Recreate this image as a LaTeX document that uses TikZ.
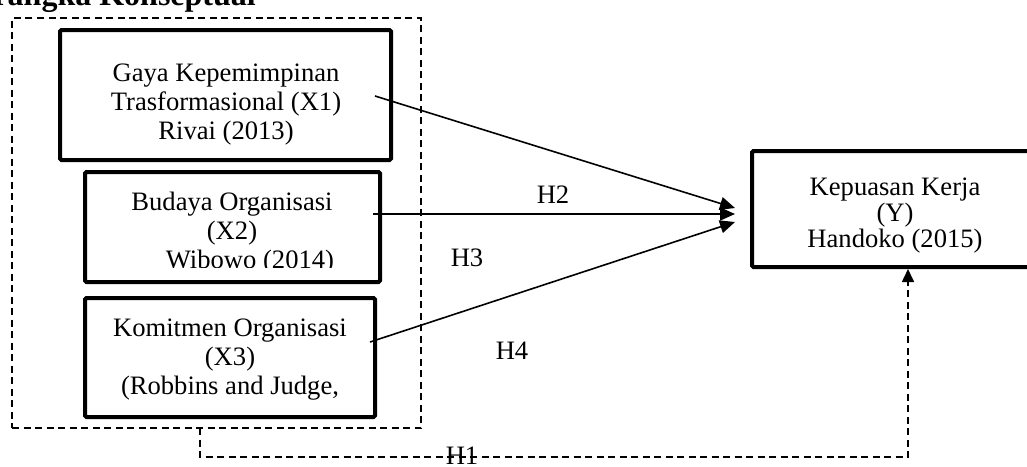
\documentclass[tikz,border=0pt]{standalone}
\usepackage{fontspec}
\setmainfont{Liberation Serif}
\usetikzlibrary{positioning,arrows.meta}

\begin{document}
\begin{tikzpicture}
    [x=1pt,y=-1pt,every node/.style={inner sep=0pt, align=center, font=\fontsize{26.6}{29}\selectfont},
     varbox/.style={draw, line width=4pt, rounded corners=1.5pt},
     dashline/.style={line width=1.6pt, dash pattern=on 7pt off 4.5pt},
     panah/.style={line width=1.6pt, -{Triangle[length=15pt,width=13pt]}}]
  \useasboundingbox (0,0) rectangle (1027,466);
  \clip (0,0) rectangle (1027,466);

  \node[anchor=base east, font=\bfseries\fontsize{32}{34}\selectfont] (judul) at (256,5) {Kerangka Konseptual};

  % kelompok variabel X
  \node[draw, dashline, minimum width=409pt, minimum height=410pt] (frame) at (216.5,223) {};

  \node[varbox, minimum width=331pt, minimum height=130pt] (x1) at (225.5,95) {};
  \node (x1t) at (226,105) {Gaya Kepemimpinan\\Trasformasional (X1)\\Rivai (2013)};

  \node[varbox, minimum width=295pt, minimum height=110pt] (x2) at (232.5,227) {};
  \begin{scope}
    \clip (90,180) rectangle (376,267);
    \node (x2t) at (232,233) {Budaya Organisasi\\(X2)\\\hspace*{36pt}Wibowo (2014)};
  \end{scope}

  \node[varbox, minimum width=290pt, minimum height=119pt] (x3) at (230,357.5) {};
  \node (x3t) at (230,360) {Komitmen Organisasi\\(X3)\\(Robbins and Judge,};

  \node[varbox, minimum width=286pt, minimum height=116pt] (y) at (895,209) {};
  \node[font=\fontsize{26.6}{26}\selectfont] (yt) at (895,216) {Kepuasan Kerja\\(Y)\\Handoko (2015)};

  % hubungan
  \coordinate (s1) at (375,96);
  \coordinate (s2) at (373,214);
  \coordinate (s3) at (370,342);
  \coordinate (e1) at (735,208);
  \coordinate (e2) at (735,214);
  \coordinate (e3) at (735,222);

  \foreach \from/\to in {s1/e1, s2/e2, s3/e3}
    \draw[panah] (\from) -- (\to);

  \node (h2) at (553,195) {H2};
  \node (h3) at (467,258) {H3};
  \node (h4) at (512,351) {H4};

  \coordinate (h1a) at (200,428);
  \draw[dashline, -{Triangle[length=13pt,width=12pt]}] (h1a) -- ++(0,29) -| ([xshift=13pt]y.south);
  \node (h1) at (462,456) {H1};
\end{tikzpicture}
\end{document}
